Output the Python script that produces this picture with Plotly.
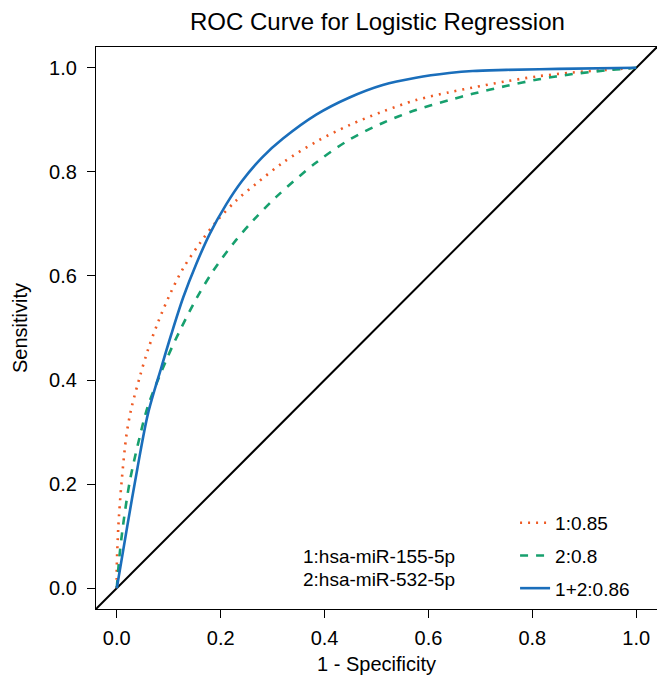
import plotly.graph_objects as go

# ROC curve points (1 - specificity, sensitivity)
fpr_1 = [0.0, 0.0, 0.003, 0.009, 0.019, 0.028, 0.044, 0.060, 0.079, 0.102, 0.128, 0.160,
         0.192, 0.230, 0.269, 0.320, 0.384, 0.448, 0.512, 0.576, 0.640, 0.685, 0.749,
         0.813, 0.878, 0.942, 1.0]
tpr_1 = [0.0, 0.041, 0.118, 0.201, 0.297, 0.345, 0.405, 0.458, 0.510, 0.564, 0.615, 0.663,
         0.705, 0.745, 0.778, 0.818, 0.858, 0.890, 0.916, 0.938, 0.953, 0.962, 0.974,
         0.984, 0.991, 0.996, 1.0]

fpr_2 = [0.0, 0.005, 0.012, 0.025, 0.044, 0.060, 0.096, 0.121, 0.153, 0.185, 0.224, 0.262,
         0.307, 0.384, 0.448, 0.512, 0.576, 0.640, 0.685, 0.749, 0.813, 0.878,
         0.942, 1.0]
tpr_2 = [0.0, 0.060, 0.120, 0.205, 0.290, 0.350, 0.440, 0.494, 0.556, 0.609, 0.662, 0.706,
         0.752, 0.818, 0.862, 0.894, 0.919, 0.938, 0.950, 0.965, 0.978, 0.988,
         0.995, 1.0]

fpr_12 = [0.0, 0.020, 0.040, 0.060, 0.086, 0.105, 0.128, 0.153, 0.179, 0.211, 0.240,
          0.280, 0.320, 0.384, 0.448, 0.512, 0.576, 0.640, 0.685, 0.750, 0.850, 1.0]
tpr_12 = [0.0, 0.118, 0.232, 0.335, 0.425, 0.488, 0.559, 0.623, 0.681, 0.738, 0.781,
          0.828, 0.864, 0.910, 0.943, 0.967, 0.981, 0.990, 0.994, 0.996, 0.998, 1.0]

ref_x = [-0.2, 1.2]
ref_y = [-0.2, 1.2]

legend_names = ["1:0.85", "2:0.8", "1+2:0.86"]
marker_labels = ["1:hsa-miR-155-5p", "2:hsa-miR-532-5p"]
ticks = [0.0, 0.2, 0.4, 0.6, 0.8, 1.0]
tick_text = ["0.0", "0.2", "0.4", "0.6", "0.8", "1.0"]

FONT = "Liberation Sans, Arial, Helvetica, sans-serif"

fig = go.Figure()
fig.add_trace(go.Scatter(x=ref_x, y=ref_y, mode="lines", showlegend=False,
                         line=dict(color="black", width=2), hoverinfo="skip"))
fig.add_trace(go.Scatter(x=fpr_1, y=tpr_1, mode="lines", name=legend_names[0],
                         legendgroup="a", line=dict(color="#EE5A24", width=2.6, dash="2px,6px",
                                                   shape="spline", smoothing=0.9)))
fig.add_trace(go.Scatter(x=fpr_2, y=tpr_2, mode="lines", name=legend_names[1],
                         legendgroup="b", line=dict(color="#17A06E", width=2.6, dash="8px,8px",
                                                   shape="spline", smoothing=0.9)))
fig.add_trace(go.Scatter(x=fpr_12, y=tpr_12, mode="lines", name=legend_names[2],
                         legendgroup="c", line=dict(color="#1A6EBB", width=2.6, shape="spline",
                                                   smoothing=0.9)))

fig.add_annotation(x=0.504, y=0.0614, xref="x", yref="y", text=marker_labels[0],
                   showarrow=False, font=dict(size=19, color="black", family=FONT))
fig.add_annotation(x=0.504, y=0.0173, xref="x", yref="y", text=marker_labels[1],
                   showarrow=False, font=dict(size=19, color="black", family=FONT))

axis_common = dict(
    tickvals=ticks, ticktext=tick_text, ticks="outside", ticklen=8, tickwidth=1.3,
    tickcolor="black", showline=True, linecolor="black", linewidth=1.3,
    showgrid=False, zeroline=False, tickfont=dict(size=20, color="black", family=FONT),
    title_font=dict(size=20, color="black", family=FONT),
)

fig.update_layout(
    width=657, height=676,
    margin=dict(l=96, r=0, t=47, b=67),
    paper_bgcolor="white", plot_bgcolor="white",
    font=dict(family=FONT, color="black"),
    title=dict(text="ROC Curve for Logistic Regression", x=0.5745, xanchor="center",
               y=0.9675, yanchor="middle", font=dict(size=24, color="black", family=FONT)),
    xaxis=dict(range=[-0.04, 1.04], mirror=True, title=dict(text="1 - Specificity", standoff=8),
               ticklabelstandoff=3, **axis_common),
    yaxis=dict(range=[-0.04, 1.04], title=dict(text="Sensitivity", standoff=16),
               ticklabelstandoff=6, **axis_common),
    legend=dict(x=0.747, y=0.187, xanchor="left", yanchor="top", bgcolor="rgba(0,0,0,0)",
                font=dict(size=19, color="black", family=FONT), tracegroupgap=5,
                traceorder="grouped"),
)

fig.write_html(
    "out.html",
    config={"displayModeBar": False},
    post_script="document.body.style.margin='0px';"
                "document.documentElement.style.overflow='hidden';"
                "document.body.style.overflow='hidden';",
)
